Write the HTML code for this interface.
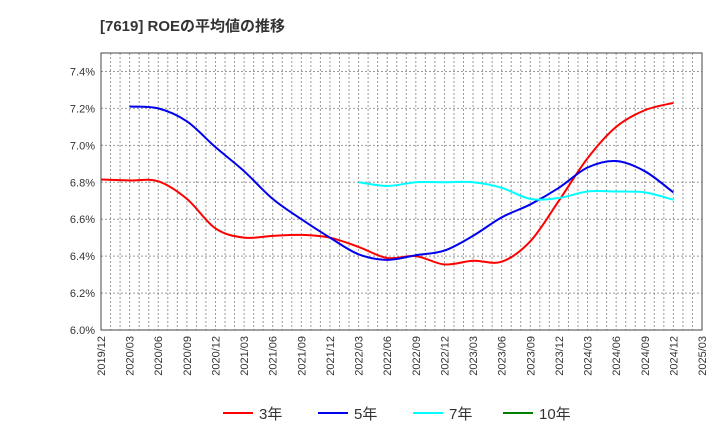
<!DOCTYPE html>
<html><head><meta charset="utf-8"><style>
body{margin:0;background:#fff;font-family:"Liberation Sans","Noto Sans CJK JP",sans-serif;}
</style></head><body>
<svg id="c" width="720" height="440" xmlns="http://www.w3.org/2000/svg">
<text x="100" y="31" font-size="15" font-weight="bold" fill="#333" font-family="Liberation Sans, Noto Sans CJK JP, sans-serif">[7619]  ROEの平均値の推移</text>
<g id="grid"></g><g id="axes"></g><g id="series"></g><g id="legend"></g>
</svg>
<script>
const xLabels=["2019/12","2020/03","2020/06","2020/09","2020/12","2021/03","2021/06","2021/09","2021/12","2022/03","2022/06","2022/09","2022/12","2023/03","2023/06","2023/09","2023/12","2024/03","2024/06","2024/09","2024/12","2025/03"];
const yTicks=[6.0,6.2,6.4,6.6,6.8,7.0,7.2,7.4];
const roe3=[6.815,6.81,6.805,6.71,6.55,6.50,6.51,6.515,6.50,6.45,6.39,6.40,6.355,6.375,6.37,6.48,6.70,6.93,7.10,7.19,7.23];
const roe5=[null,7.21,7.20,7.13,6.99,6.86,6.71,6.60,6.50,6.41,6.38,6.405,6.43,6.51,6.61,6.68,6.77,6.88,6.915,6.86,6.745];
const roe7=[null,null,null,null,null,null,null,null,null,6.80,6.78,6.80,6.80,6.80,6.77,6.71,6.715,6.75,6.75,6.745,6.705];
const L=101,R=702,T=53,B=330;
const yMin=6.0,yMax=7.5;
const xs=i=>L+i*(R-L)/21;
const ys=v=>B-(v-yMin)/(yMax-yMin)*(B-T);
const NS="http://www.w3.org/2000/svg";
function mk(tag,attrs,parent){const e=document.createElementNS(NS,tag);for(const k in attrs)e.setAttribute(k,attrs[k]);parent.appendChild(e);return e;}
const grid=document.getElementById('grid'),axes=document.getElementById('axes'),ser=document.getElementById('series'),leg=document.getElementById('legend');
for(let m=1;m<63;m++){const x=L+m*(R-L)/63;const l=mk('line',{x1:x,x2:x,y1:T,y2:B,stroke:'#999','stroke-dasharray':'2,2','stroke-width':1},grid);

}
yTicks.forEach(v=>{const y=ys(v);const l=mk('line',{x1:L,x2:R,y1:y,y2:y,stroke:'#999','stroke-dasharray':'2,2','stroke-width':1},grid);


const t=mk('text',{x:L-6,y:y+4,'text-anchor':'end','font-size':11,fill:'#333'},axes);t.textContent=v.toFixed(1)+'%';

});
const fr=mk('rect',{x:L,y:T,width:R-L,height:B-T,fill:'none',stroke:'#444','stroke-width':1},axes);


xLabels.forEach((s,i)=>{const x=xs(i);const t=mk('text',{x:x+4,y:B+6,'text-anchor':'end','font-size':11,fill:'#333',transform:`rotate(-90 ${x+4} ${B+6})`},axes);t.textContent=s;

});
function path(arr){const p=[];arr.forEach((v,i)=>{if(v!=null)p.push([xs(i),ys(v)]);});
let d=`M${p[0][0]},${p[0][1]}`;for(let i=0;i<p.length-1;i++){const p0=p[i-1]||p[i],p1=p[i],p2=p[i+1],p3=p[i+2]||p2;
d+=` C${p1[0]+(p2[0]-p0[0])/6},${p1[1]+(p2[1]-p0[1])/6} ${p2[0]-(p3[0]-p1[0])/6},${p2[1]-(p3[1]-p1[1])/6} ${p2[0]},${p2[1]}`;}return d;}
[[roe3,'#ff0000','roe-3y-line'],[roe5,'#0000ee','roe-5y-line'],[roe7,'#00ffff','roe-7y-line']].forEach(([a,c,n])=>{const e=mk('path',{d:path(a),fill:'none',stroke:c,'stroke-width':2},ser);

});
[['3年','#ff0000',223],['5年','#0000ee',318],['7年','#00ffff',413],['10年','#008000',503]].forEach(([s,c,x])=>{
const g=mk('g',{},leg);


mk('line',{x1:x,x2:x+30,y1:413,y2:413,stroke:c,'stroke-width':2},g);
const t=mk('text',{x:x+36,y:419,'font-size':15,fill:'#333'},g);t.textContent=s;});
</script>
</body></html>
